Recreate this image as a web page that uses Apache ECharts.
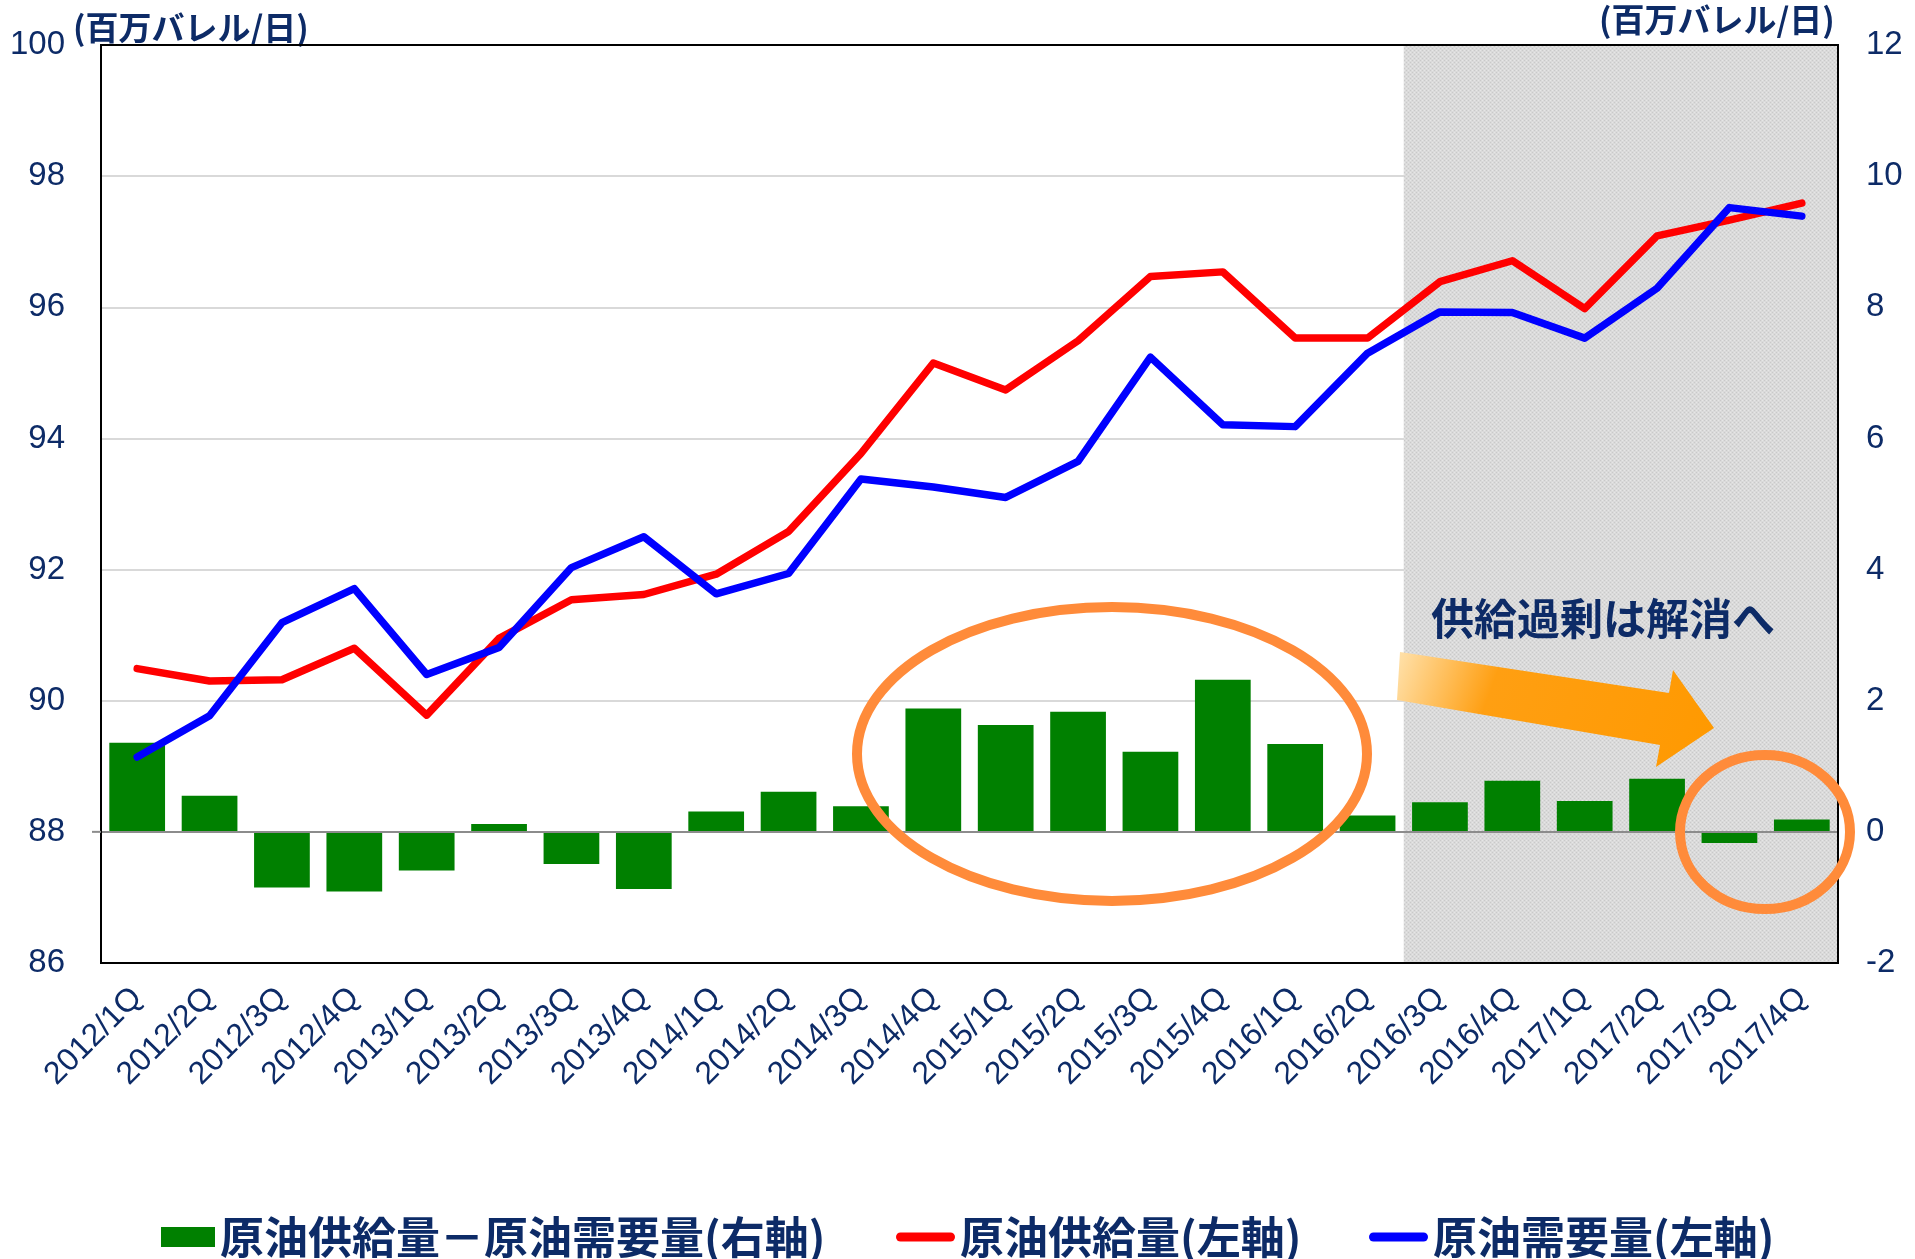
<!DOCTYPE html>
<html>
<head>
<meta charset="utf-8">
<script src="https://cdn.jsdelivr.net/npm/echarts@6/dist/echarts.min.js"></script>
<style>
  html, body { margin: 0; padding: 0; background: #ffffff; }
  #chart { width: 1915px; height: 1259px; }
</style>
</head>
<body>
<div id="chart"></div>
<script>
// Quarterly crude oil supply / demand (million barrels per day)
const quarters = [
  '2012/1Q', '2012/2Q', '2012/3Q', '2012/4Q',
  '2013/1Q', '2013/2Q', '2013/3Q', '2013/4Q',
  '2014/1Q', '2014/2Q', '2014/3Q', '2014/4Q',
  '2015/1Q', '2015/2Q', '2015/3Q', '2015/4Q',
  '2016/1Q', '2016/2Q', '2016/3Q', '2016/4Q',
  '2017/1Q', '2017/2Q', '2017/3Q', '2017/4Q'
];
const supply = [
  90.49, 90.30, 90.32, 90.80,
  89.78, 90.95, 91.54, 91.62,
  91.93, 92.58, 93.77, 95.15,
  94.74, 95.49, 96.47, 96.54,
  95.53, 95.53, 96.39, 96.71,
  95.98, 97.09, 97.33, 97.59
];
const demand = [
  89.14, 89.77, 91.19, 91.71,
  90.40, 90.81, 92.03, 92.50,
  91.63, 91.94, 93.38, 93.26,
  93.10, 93.65, 95.24, 94.21,
  94.18, 95.30, 95.93, 95.92,
  95.53, 96.29, 97.52, 97.39
];
const balance = [
  1.36, 0.55, -0.85, -0.91,
  -0.59, 0.12, -0.49, -0.87,
  0.31, 0.61, 0.39, 1.88,
  1.63, 1.83, 1.22, 2.32,
  1.34, 0.25, 0.45, 0.78,
  0.47, 0.81, -0.17, 0.19
];
const leftAxisRange = [86, 100, 2];   // min, max, step
const rightAxisRange = [-2, 12, 2];
const forecastStart = '2016/3Q';

const seriesNames = ['原油供給量－原油需要量(右軸)', '原油供給量(左軸)', '原油需要量(左軸)'];
const unitLabel = '(百万バレル/日)';
const noteText = '供給過剰は解消へ';

const NAVY = '#0d2b67';
const NUM_FONT = "'Liberation Sans Narrow', 'Liberation Sans', Arial, sans-serif";
const JP_FONT = "'Noto Sans CJK JP', 'Noto Sans', sans-serif";

// fine dotted grey texture for the forecast band
function makeTexture() {
  const c = document.createElement('canvas');
  c.width = 4; c.height = 4;
  const g = c.getContext('2d');
  g.fillStyle = '#dadada';
  g.fillRect(0, 0, 4, 4);
  g.fillStyle = '#c9c9c9';
  g.fillRect(0, 0, 1, 1); g.fillRect(2, 2, 1, 1);
  g.fillStyle = '#e6e6e6';
  g.fillRect(2, 0, 1, 1); g.fillRect(0, 2, 1, 1);
  return c;
}

const chart = echarts.init(document.getElementById('chart'), null, { renderer: 'canvas' });
const forecastIdx = quarters.indexOf(forecastStart);

const lineIcon = 'path://M4.5,0 H54.5 A4.5,4.5 0 0 1 54.5,9 H4.5 A4.5,4.5 0 0 1 4.5,0 Z';
const legendText = {
  fontSize: 44, fontWeight: 'bold', color: NAVY, fontFamily: JP_FONT,
  padding: [0, 0, 8, 0]
};
const titleText = { fontSize: 33, fontWeight: 'bold', color: NAVY, fontFamily: JP_FONT };

chart.setOption({
  animation: false,
  backgroundColor: '#ffffff',
  title: [
    { text: unitLabel, left: 68, top: 6, textStyle: titleText },
    { text: unitLabel, left: 1594, top: -2, textStyle: titleText }
  ],
  legend: [
    { left: 156, top: 1210, itemWidth: 54, itemHeight: 20, textStyle: legendText,
      data: [{ name: seriesNames[0], icon: 'rect' }] },
    { left: 891, top: 1210, itemWidth: 59, itemHeight: 20, textStyle: legendText,
      data: [{ name: seriesNames[1], icon: lineIcon }] },
    { left: 1364, top: 1210, itemWidth: 59, itemHeight: 20, textStyle: legendText,
      data: [{ name: seriesNames[2], icon: lineIcon }] }
  ],
  grid: {
    left: 101, right: 77, top: 45, bottom: 296,
    show: true, borderColor: '#000000', borderWidth: 2,
    backgroundColor: 'transparent', z: 20
  },
  xAxis: [
    {
      type: 'category', data: quarters, boundaryGap: true,
      axisLine: { show: false }, axisTick: { show: false },
      axisLabel: {
        interval: 0, rotate: 45, margin: 30,
        fontSize: 32, color: NAVY, fontFamily: NUM_FONT
      }
    },
    { type: 'value', min: 0, max: quarters.length, show: false }
  ],
  yAxis: [
    {
      type: 'value', min: leftAxisRange[0], max: leftAxisRange[1], interval: leftAxisRange[2],
      axisLine: { show: false }, axisTick: { show: false },
      axisLabel: { margin: 36, fontSize: 33, color: NAVY, fontFamily: NUM_FONT },
      splitLine: { show: true, lineStyle: { color: '#d9d9d9', width: 2 } }
    },
    {
      type: 'value', min: rightAxisRange[0], max: rightAxisRange[1], interval: rightAxisRange[2],
      axisLine: { show: false }, axisTick: { show: false },
      axisLabel: { margin: 28, fontSize: 33, color: NAVY, fontFamily: NUM_FONT },
      splitLine: { show: false }
    }
  ],
  series: [
    {
      name: 'forecast-band', type: 'line', xAxisIndex: 1, yAxisIndex: 0,
      data: [], silent: true, z: 1,
      markArea: {
        silent: true,
        itemStyle: { color: { image: makeTexture(), repeat: 'repeat' } },
        data: [[
          { xAxis: forecastIdx, yAxis: leftAxisRange[0] },
          { xAxis: quarters.length, yAxis: leftAxisRange[1] }
        ]]
      }
    },
    {
      name: seriesNames[0], type: 'bar', xAxisIndex: 0, yAxisIndex: 1,
      data: balance, barWidth: '77%', z: 2,
      itemStyle: { color: '#008000' },
      markLine: {
        silent: true, symbol: ['none', 'none'], label: { show: false },
        lineStyle: { color: '#8c8c8c', width: 2, type: 'solid' },
        data: [{ yAxis: 0 }]
      }
    },
    {
      name: seriesNames[1], type: 'line', xAxisIndex: 0, yAxisIndex: 0,
      data: supply, showSymbol: false, symbol: 'none', z: 3, color: '#ff0000',
      lineStyle: { color: '#ff0000', width: 7.5, cap: 'round', join: 'round' }
    },
    {
      name: seriesNames[2], type: 'line', xAxisIndex: 0, yAxisIndex: 0,
      data: demand, showSymbol: false, symbol: 'none', z: 4, color: '#0000ff',
      lineStyle: { color: '#0000ff', width: 7.5, cap: 'round', join: 'round' }
    }
  ]
});

// annotations: highlight rings, trend arrow and note
const y0 = chart.convertToPixel({ yAxisIndex: 1 }, 0);
const ORANGE = '#ff8b3a';
chart.setOption({
  graphic: [
    { type: 'line', z: 30, shape: { x1: 92, y1: y0, x2: 101, y2: y0 },
      style: { stroke: '#8c8c8c', lineWidth: 2 } },
    { type: 'ellipse', z: 30, shape: { cx: 1112, cy: 754, rx: 255, ry: 147 },
      style: { fill: null, stroke: ORANGE, lineWidth: 10 } },
    { type: 'ellipse', z: 30, shape: { cx: 1765, cy: 832, rx: 85, ry: 77 },
      style: { fill: null, stroke: ORANGE, lineWidth: 10 } },
    { type: 'polygon', z: 30,
      shape: { points: [[1400, 652], [1669, 693], [1673, 670], [1714, 728], [1656, 767], [1660, 745], [1397, 700]] },
      style: {
        fill: new echarts.graphic.LinearGradient(0, 0, 1, 1, [
          { offset: 0, color: '#ffe2ad' },
          { offset: 0.3, color: '#ff9f12' },
          { offset: 1, color: '#ff9900' }
        ])
      } },
    { type: 'text', z: 30, left: 1431, top: 597,
      style: { text: noteText, fill: NAVY, font: "bold 43px 'Noto Sans CJK JP', sans-serif" } }
  ]
});
</script>
</body>
</html>
